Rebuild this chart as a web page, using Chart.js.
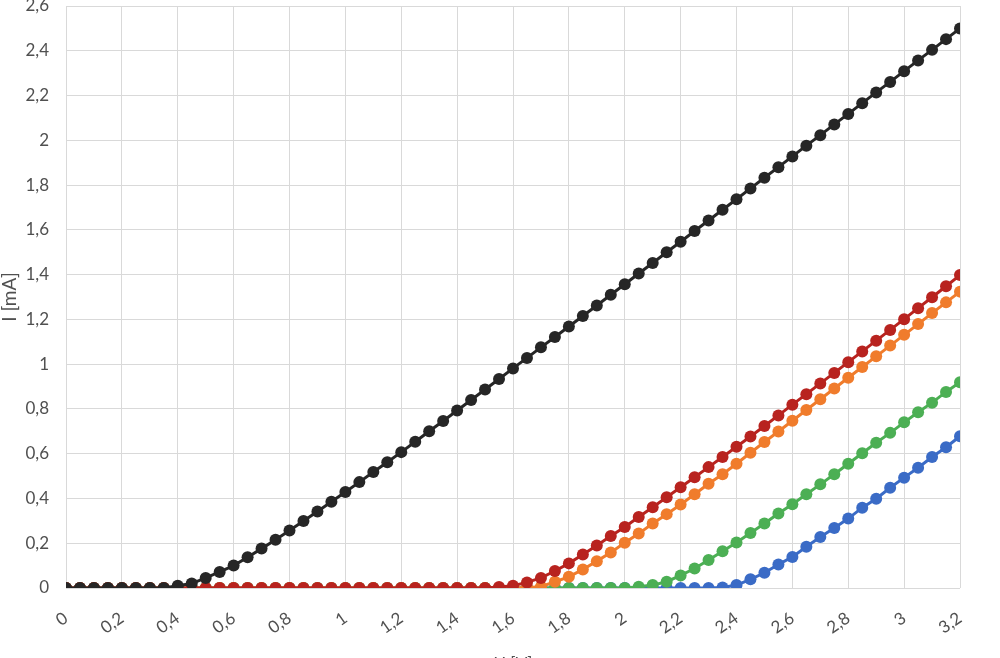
<!DOCTYPE html>
<html>
<head>
<meta charset="utf-8">
<script src="https://cdn.jsdelivr.net/npm/chart.js@4/dist/chart.umd.min.js"></script>
<style>
  html, body { margin: 0; padding: 0; background: #fff; overflow: hidden; }
  #wrap { width: 1000px; height: 680px; }
</style>
</head>
<body>
<div id="wrap"><canvas id="chart" width="1000" height="680"></canvas></div>
<script>
// voltage U [V]
const voltages = [
  0, 0.05, 0.1, 0.15, 0.2, 0.25, 0.3, 0.35, 0.4, 0.45,
  0.5, 0.55, 0.6, 0.65, 0.7, 0.75, 0.8, 0.85, 0.9, 0.95,
  1, 1.05, 1.1, 1.15, 1.2, 1.25, 1.3, 1.35, 1.4, 1.45,
  1.5, 1.55, 1.6, 1.65, 1.7, 1.75, 1.8, 1.85, 1.9, 1.95,
  2, 2.05, 2.1, 2.15, 2.2, 2.25, 2.3, 2.35, 2.4, 2.45,
  2.5, 2.55, 2.6, 2.65, 2.7, 2.75, 2.8, 2.85, 2.9, 2.95,
  3, 3.05, 3.1, 3.15, 3.2
];

// current I [mA] per curve
const blackI = [
  0, 0, 0, 0, 0, 0, 0, 0, 0.01, 0.02,
  0.045, 0.072, 0.1, 0.137, 0.176, 0.216, 0.257, 0.299, 0.342, 0.385,
  0.429, 0.473, 0.518, 0.562, 0.607, 0.653, 0.7, 0.746, 0.793, 0.84,
  0.887, 0.934, 0.981, 1.028, 1.075, 1.121, 1.168, 1.215, 1.262, 1.31,
  1.357, 1.405, 1.452, 1.5, 1.547, 1.595, 1.642, 1.69, 1.737, 1.785,
  1.833, 1.88, 1.928, 1.976, 2.023, 2.071, 2.118, 2.166, 2.214, 2.261,
  2.309, 2.357, 2.404, 2.452, 2.5
];
const redI = [
  0, 0, 0, 0, 0, 0, 0, 0, 0, 0,
  0, 0, 0, 0, 0, 0, 0, 0, 0, 0,
  0, 0, 0, 0, 0, 0, 0, 0, 0, 0,
  0, 0.004, 0.01, 0.025, 0.045, 0.076, 0.11, 0.15, 0.19, 0.232,
  0.273, 0.317, 0.361, 0.405, 0.45, 0.495, 0.54, 0.585, 0.631, 0.677,
  0.724, 0.771, 0.819, 0.866, 0.914, 0.961, 1.009, 1.057, 1.105, 1.153,
  1.201, 1.25, 1.299, 1.348, 1.398
];
const orangeI = [
  0, 0, 0, 0, 0, 0, 0, 0, 0, 0,
  0, 0, 0, 0, 0, 0, 0, 0, 0, 0,
  0, 0, 0, 0, 0, 0, 0, 0, 0, 0,
  0, 0, 0, 0.002, 0.006, 0.028, 0.05, 0.083, 0.12, 0.159,
  0.202, 0.243, 0.288, 0.33, 0.373, 0.419, 0.466, 0.508, 0.555, 0.604,
  0.652, 0.699, 0.747, 0.795, 0.843, 0.891, 0.939, 0.987, 1.035, 1.083,
  1.131, 1.179, 1.228, 1.276, 1.324
];
const greenI = [
  0, 0, 0, 0, 0, 0, 0, 0, 0, 0,
  0, 0, 0, 0, 0, 0, 0, 0, 0, 0,
  0, 0, 0, 0, 0, 0, 0, 0, 0, 0,
  0, 0, 0, 0, 0, 0, 0, 0, 0, 0,
  0, 0.006, 0.013, 0.028, 0.056, 0.087, 0.125, 0.164, 0.203, 0.246,
  0.288, 0.333, 0.374, 0.419, 0.463, 0.508, 0.555, 0.602, 0.649, 0.693,
  0.74, 0.785, 0.828, 0.876, 0.919
];
const blueI = [
  0, 0, 0, 0, 0, 0, 0, 0, 0, 0,
  0, 0, 0, 0, 0, 0, 0, 0, 0, 0,
  0, 0, 0, 0, 0, 0, 0, 0, 0, 0,
  0, 0, 0, 0, 0, 0, 0, 0, 0, 0,
  0, 0, 0, 0, 0, 0, 0, 0.002, 0.013, 0.039,
  0.068, 0.105, 0.139, 0.184, 0.228, 0.268, 0.31, 0.359, 0.399, 0.448,
  0.493, 0.537, 0.585, 0.629, 0.678
];

const tickColor = '#505050';
const gridColor = '#d9d9d9';

function points(values) {
  return voltages.map((u, i) => ({ x: u, y: values[i] }));
}

function series(label, values, color) {
  return {
    label: label,
    data: points(values),
    borderColor: color,
    backgroundColor: color,
    borderWidth: 3,
    pointRadius: 6,
    pointBorderWidth: 0,
    pointBackgroundColor: color,
    tension: 0
  };
}

// comma as decimal separator, like the original
function commaLabel(v) {
  return String(Math.round(v * 10) / 10).replace('.', ',');
}

// first dataset ends up on top
const datasets = [
  series('black', blackI, '#262626'),
  series('red', redI, '#b8231f'),
  series('orange', orangeI, '#f07c2c'),
  series('green', greenI, '#4caf54'),
  series('blue', blueI, '#3a6bc6')
];

new Chart(document.getElementById('chart'), {
  type: 'line',
  data: { datasets: datasets },
  options: {
    responsive: false,
    animation: false,
    layout: { padding: { left: 0, right: 40, top: 4, bottom: 0 } },
    plugins: {
      legend: { display: false },
      tooltip: { enabled: false }
    },
    scales: {
      x: {
        type: 'linear',
        min: 0,
        max: 3.2,
        border: { display: false },
        grid: { color: gridColor, lineWidth: 1, drawTicks: false },
        ticks: {
          stepSize: 0.2,
          autoSkip: false,
          minRotation: 35,
          maxRotation: 35,
          padding: 20,
          color: tickColor,
          font: { family: 'Lato', size: 17 },
          callback: v => commaLabel(v)
        },
        title: {
          display: true,
          text: 'U [V]',
          color: tickColor,
          font: { family: 'Lato', size: 17 },
          padding: { top: 0, bottom: 5 }
        },
        afterFit: s => { s.height = 92; s.paddingLeft = 0; s.paddingRight = 0; }
      },
      y: {
        min: 0,
        max: 2.6,
        border: { display: false },
        grid: { color: gridColor, lineWidth: 1, drawTicks: false },
        ticks: {
          stepSize: 0.2,
          padding: 17,
          color: tickColor,
          font: { family: 'Lato', size: 17 },
          callback: v => commaLabel(v)
        },
        title: {
          display: true,
          text: 'I [mA]',
          color: tickColor,
          font: { family: 'Lato', size: 19 },
          padding: { top: -2, bottom: 0 }
        },
        afterFit: s => { s.width = 66; s.paddingTop = 0; s.paddingBottom = 0; }
      }
    }
  }
});
</script>
</body>
</html>
